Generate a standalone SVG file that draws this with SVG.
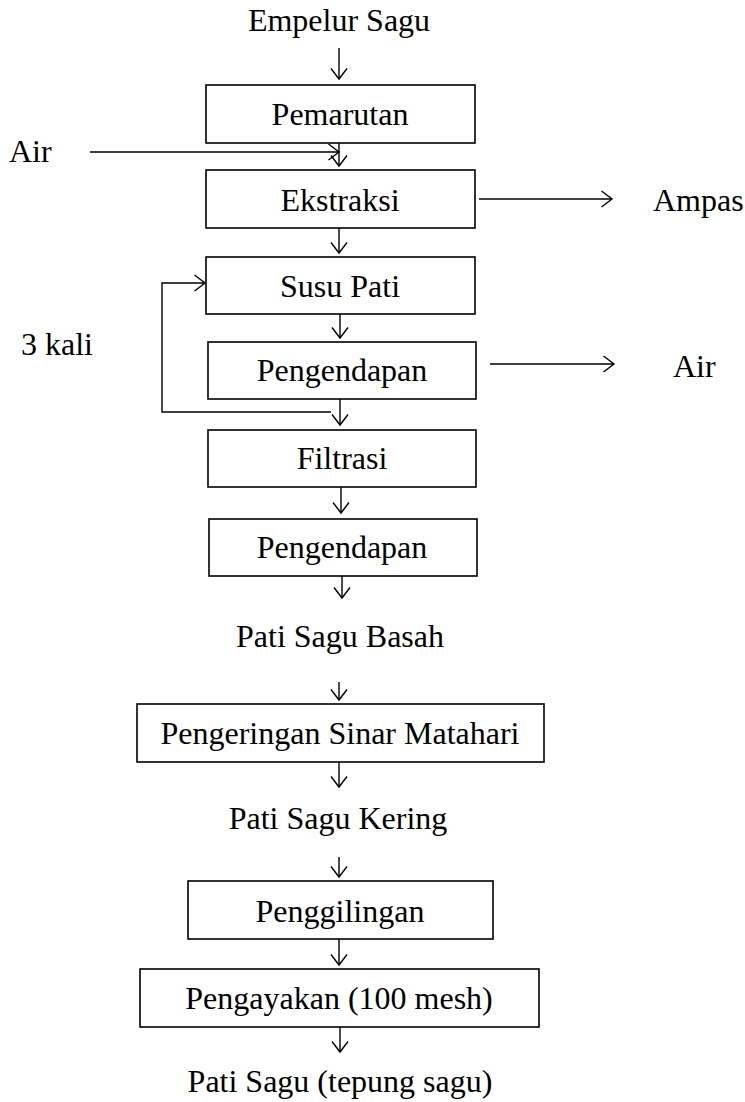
<svg xmlns="http://www.w3.org/2000/svg" width="745" height="1102" viewBox="0 0 745 1102">
<style>
.t{font-family:'Liberation Serif','Times New Roman',Times,serif;font-size:32px;fill:#000}
.c{text-anchor:middle}
.box{fill:#fff;stroke:#000;stroke-width:1.6}
.ln{fill:none;stroke:#000;stroke-width:1.4;marker-end:url(#ah)}
</style>
<defs>
<marker id="ah" markerWidth="14" markerHeight="20" refX="10.5" refY="8" orient="auto" markerUnits="userSpaceOnUse" overflow="visible">
<path d="M0,0 L10.5,8 L0,16" fill="none" stroke="#000" stroke-width="1.4"/>
</marker>
</defs>
<rect width="745" height="1102" fill="#fff"/>
<g class="t" font-family="Liberation Serif, serif">
<g id="empelur"><text class="c" x="339" y="31">Empelur Sagu</text></g>
<g id="pemarutan"><rect class="box" x="206" y="85" width="269" height="58"/><text class="c" x="340" y="125">Pemarutan</text></g>
<g id="air-in"><text x="9" y="162">Air</text></g>
<g id="ekstraksi"><rect class="box" x="206" y="170" width="269" height="58"/><text class="c" x="340" y="211">Ekstraksi</text></g>
<g id="ampas"><text x="653" y="211">Ampas</text></g>
<g id="susu-pati"><rect class="box" x="206" y="257" width="269" height="57"/><text class="c" x="340" y="297">Susu Pati</text></g>
<g id="tiga-kali"><text x="21" y="355">3 kali</text></g>
<g id="pengendapan1"><rect class="box" x="208" y="342" width="268" height="57"/><text class="c" x="342" y="381">Pengendapan</text></g>
<g id="air-out"><text x="673" y="377">Air</text></g>
<g id="filtrasi"><rect class="box" x="208" y="430" width="268" height="57"/><text class="c" x="342" y="469">Filtrasi</text></g>
<g id="pengendapan2"><rect class="box" x="209" y="519" width="268" height="57"/><text class="c" x="342" y="558">Pengendapan</text></g>
<g id="pati-basah"><text class="c" x="340" y="647">Pati Sagu Basah</text></g>
<g id="pengeringan"><rect class="box" x="137" y="704" width="407" height="58"/><text class="c" x="340" y="744">Pengeringan Sinar Matahari</text></g>
<g id="pati-kering"><text class="c" x="338" y="829">Pati Sagu Kering</text></g>
<g id="penggilingan"><rect class="box" x="188" y="881" width="305" height="58"/><text class="c" x="340" y="922">Penggilingan</text></g>
<g id="pengayakan"><rect class="box" x="140" y="969" width="399" height="58"/><text class="c" x="339" y="1009">Pengayakan (100 mesh)</text></g>
<g id="pati-tepung"><text class="c" x="340" y="1092">Pati Sagu (tepung sagu)</text></g>
</g>
<g id="connectors">
<line class="ln" x1="339" y1="48" x2="339" y2="79"/>
<line class="ln" x1="90" y1="152" x2="339" y2="152"/>
<line class="ln" x1="339" y1="143" x2="339" y2="166"/>
<line class="ln" x1="479" y1="199" x2="612" y2="199"/>
<line class="ln" x1="339" y1="228" x2="339" y2="253"/>
<line class="ln" x1="340" y1="314" x2="340" y2="338"/>
<line class="ln" x1="490" y1="364" x2="614" y2="364"/>
<line class="ln" x1="340" y1="399" x2="340" y2="425"/>
<polyline class="ln" points="331,412 162,412 162,283 205,283"/>
<line class="ln" x1="341" y1="487" x2="341" y2="513"/>
<line class="ln" x1="342" y1="576" x2="342" y2="598"/>
<line class="ln" x1="339" y1="682" x2="339" y2="700"/>
<line class="ln" x1="339" y1="762" x2="339" y2="787"/>
<line class="ln" x1="339" y1="857" x2="339" y2="877"/>
<line class="ln" x1="339" y1="939" x2="339" y2="965"/>
<line class="ln" x1="340" y1="1027" x2="340" y2="1052"/>
</g>
</svg>
